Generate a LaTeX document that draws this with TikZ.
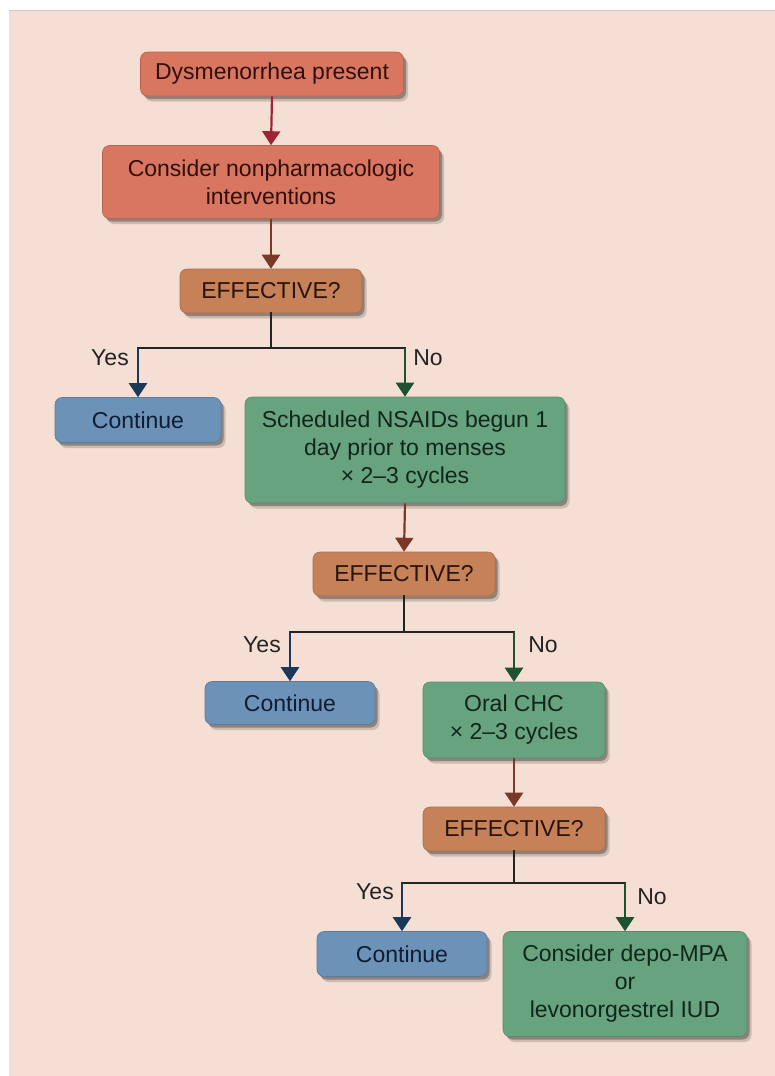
\documentclass[tikz,border=0pt]{standalone}
\usepackage{fontspec}
\setmainfont{Liberation Sans}
\usetikzlibrary{shadows,arrows.meta}
\definecolor{bgA}{RGB}{245,223,212}
\definecolor{bgB}{RGB}{247,219,208}
\definecolor{redfill}{RGB}{216,118,96}
\definecolor{redtext}{RGB}{50,14,10}
\definecolor{effill}{RGB}{198,129,89}
\definecolor{eftext}{RGB}{40,20,10}
\definecolor{bluefill}{RGB}{108,146,184}
\definecolor{bluetext}{RGB}{15,28,50}
\definecolor{greenfill}{RGB}{104,163,128}
\definecolor{greentext}{RGB}{16,38,25}
\definecolor{arrred}{RGB}{158,36,52}
\definecolor{arrbrown}{RGB}{122,56,38}
\definecolor{arrnavy}{RGB}{26,56,90}
\definecolor{arrgreen}{RGB}{28,82,50}
\definecolor{linedark}{RGB}{35,35,35}
\begin{document}
\begin{tikzpicture}[x=1pt,y=-1pt,
  box/.style={rounded corners=7pt, align=center, inner sep=0pt,
    font=\fontsize{23}{28}\selectfont,
    drop shadow={shadow xshift=4.5pt,shadow yshift=-5.5pt,fill=black,opacity=0.16},
    drop shadow={shadow xshift=2.5pt,shadow yshift=-3pt,fill=black,opacity=0.3}},
  redbox/.style={box, fill=redfill, draw=redfill!85!black, line width=0.6pt, text=redtext},
  effbox/.style={box, fill=effill, draw=effill!85!black, line width=0.6pt, text=eftext, minimum width=182pt, minimum height=44pt},
  bluebox/.style={box, fill=bluefill, draw=bluefill!85!black, line width=0.6pt, text=bluetext, minimum height=45pt},
  greenbox/.style={box, fill=greenfill, draw=greenfill!85!black, line width=0.6pt, text=greentext},
  lbl/.style={font=\fontsize{23}{28}\selectfont, text=linedark, inner sep=0pt},
  conn/.style={line width=2.2pt, -{Triangle[width=18pt,length=14pt]}},
  redarrow/.style={conn, draw=arrred, fill=arrred},
  brownarrow/.style={conn, draw=arrbrown, fill=arrbrown},
  yesarrow/.style={conn, draw=arrnavy, fill=arrnavy},
  noarrow/.style={conn, draw=arrgreen, fill=arrgreen},
  branch/.style={line width=2.2pt, draw=linedark, line cap=rect}
]
\useasboundingbox (0,0) rectangle (775,1076);
\fill[white] (0,0) rectangle (775,1076);
\fill[bgA] (9,10) rectangle (775,1076);
\draw[bgB!90!black, line width=0.8pt] (9,10.5) -- (775,10.5);

% nodes
\node[redbox, minimum width=263pt, minimum height=44pt] (d) at (272,74) {Dysmenorrhea present};
\node[redbox, minimum width=337pt, minimum height=73pt] (c) at (271,182) {Consider nonpharmacologic\\interventions};
\node[effbox] (e1) at (271,291) {EFFECTIVE?};
\node[bluebox, minimum width=166pt] (y1) at (138,420) {Continue};
\node[greenbox, minimum width=320pt, minimum height=106pt] (n1) at (405,450) {Scheduled NSAIDs begun 1\\day prior to menses\\× 2–3 cycles};
\node[effbox] (e2) at (404,574) {EFFECTIVE?};
\node[bluebox, minimum width=170pt, minimum height=43pt] (y2) at (290,703) {Continue};
\node[greenbox, minimum width=182pt, minimum height=76pt] (n2) at (514,720) {Oral CHC\\× 2–3 cycles};
\node[effbox] (e3) at (514,829) {EFFECTIVE?};
\node[bluebox, minimum width=170pt] (y3) at (402,954) {Continue};
\node[greenbox, minimum width=244pt, minimum height=105pt] (n3) at (625,984) {Consider depo-MPA\\or\\levonorgestrel IUD};

% labels
\node[lbl] (yl1) at (110,358) {Yes};
\node[lbl] (nl1) at (428,358) {No};
\node[lbl] (yl2) at (262,645) {Yes};
\node[lbl] (nl2) at (543,645) {No};
\node[lbl] (yl3) at (375,892) {Yes};
\node[lbl] (nl3) at (652,897) {No};

% branch coordinates
\coordinate (b1) at (0,348);
\coordinate (b2) at (0,632);
\coordinate (b3) at (0,883);

% connectors
\draw[redarrow] (d.south) -- (c.north);
\draw[brownarrow] (c.south) -- (e1.north);

\draw[branch] (e1.south) -- (e1.south |- b1);
\draw[branch] (y1.north |- b1) -- (n1.north |- b1);
\draw[yesarrow] (y1.north |- b1) -- (y1.north);
\draw[noarrow] (n1.north |- b1) -- (n1.north);

\draw[brownarrow] (n1.south) -- (e2.north);
\draw[branch] (e2.south) -- (e2.south |- b2);
\draw[branch] (y2.north |- b2) -- (n2.north |- b2);
\draw[yesarrow] (y2.north |- b2) -- (y2.north);
\draw[noarrow] (n2.north |- b2) -- (n2.north);

\draw[brownarrow] (n2.south) -- (e3.north);
\draw[branch] (e3.south) -- (e3.south |- b3);
\draw[branch] (y3.north |- b3) -- (n3.north |- b3);
\draw[yesarrow] (y3.north |- b3) -- (y3.north);
\draw[noarrow] (n3.north |- b3) -- (n3.north);
\end{tikzpicture}
\end{document}
